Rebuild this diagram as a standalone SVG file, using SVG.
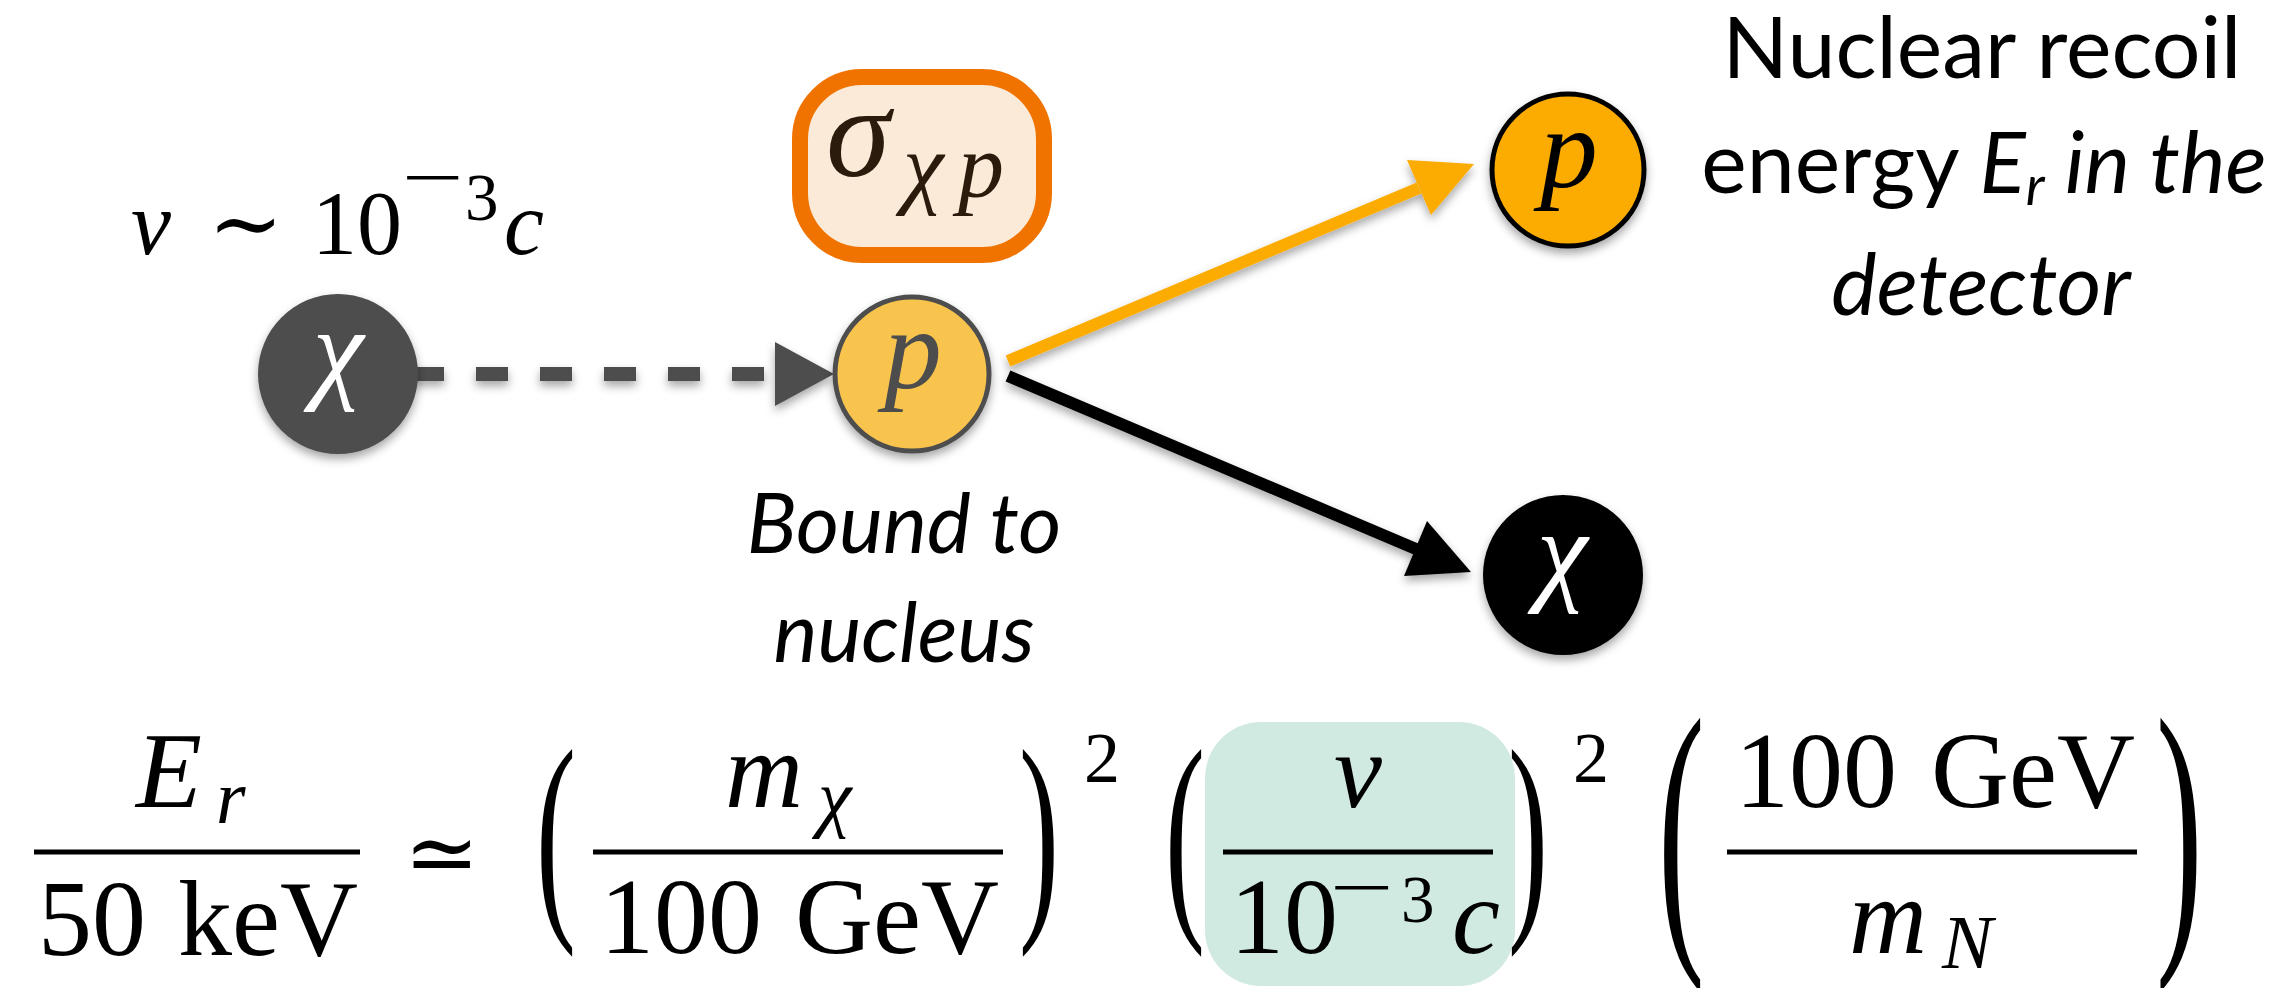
<svg xmlns="http://www.w3.org/2000/svg" width="2274" height="988" viewBox="0 0 2274 988">
<style>
.m{font-family:"Liberation Serif","DejaVu Serif",serif;fill:#000}
.i{font-style:italic}
.s{font-family:Lato,"Open Sans","Liberation Sans",sans-serif;fill:#000}
.bar{stroke:#000;stroke-width:5}
</style>
<defs>
<filter id="sh" x="-30%" y="-30%" width="160%" height="170%">
<feDropShadow dx="0" dy="5" stdDeviation="5" flood-color="#000" flood-opacity="0.35"/>
</filter>
</defs>
<rect width="2274" height="988" fill="#fff"/>

<g id="connectors">
<g filter="url(#sh)">
<line x1="412" y1="374" x2="776" y2="374" stroke="#4d4d4d" stroke-width="14" stroke-dasharray="32 32"/>
<polygon points="775,342 834,374 775,406" fill="#4d4d4d"/>
</g>
<g filter="url(#sh)">
<line x1="1008" y1="361" x2="1419" y2="188" stroke="#fcab05" stroke-width="12"/>
<polygon points="1474,164 1407,160 1431,215" fill="#fcab05"/>
</g>
<g filter="url(#sh)">
<line x1="1008" y1="376" x2="1416" y2="549" stroke="#000" stroke-width="12"/>
<polygon points="1471,572 1404,576 1427,521" fill="#000"/>
</g>
</g>

<g id="node-chi-in">
<circle cx="338" cy="374" r="80" fill="#4d4d4d" filter="url(#sh)"/>
<text class="m i" x="338" y="388" font-size="115" text-anchor="middle" style="fill:#fff">χ</text>
</g>

<g id="node-p-bound">
<circle cx="912" cy="374" r="77" fill="#f9c44e" stroke="#4d4d4d" stroke-width="5" filter="url(#sh)"/>
<text class="m i" x="913" y="388" font-size="115" text-anchor="middle" style="fill:#4d4d4d">p</text>
</g>

<g id="node-p-out">
<circle cx="1568" cy="170" r="76" fill="#fcab05" stroke="#000" stroke-width="5" filter="url(#sh)"/>
<text class="m i" x="1569" y="187" font-size="115" text-anchor="middle">p</text>
</g>

<g id="node-chi-out">
<circle cx="1563" cy="575" r="80" fill="#000" filter="url(#sh)"/>
<text class="m i" x="1562" y="590" font-size="115" text-anchor="middle" style="fill:#fff">χ</text>
</g>

<g id="cross-section">
<rect x="800" y="77" width="244" height="178" rx="62" fill="#fbead7" stroke="#f07300" stroke-width="16"/>
<text class="m i" font-size="130" style="fill:#2a1b0c"><tspan x="826" y="176">σ</tspan><tspan x="903" y="197" font-size="92">χ</tspan><tspan x="958" y="197" font-size="92">p</tspan></text>
</g>

<g id="velocity-label">
<text class="m" font-size="90"><tspan class="i" x="131" y="254">v</tspan><tspan x="208" y="254">∼</tspan><tspan x="312" y="254">10</tspan><tspan x="465" y="220" font-size="67">3</tspan><tspan class="i" x="504" y="254">c</tspan></text>
<text class="m" x="402" y="200" font-size="67" textLength="62" lengthAdjust="spacingAndGlyphs">−</text>
</g>

<g id="bound-label">
<text class="s i" font-size="83" text-anchor="middle"><tspan x="904" y="553">Bound to</tspan><tspan x="904" y="662">nucleus</tspan></text>
</g>

<g id="recoil-label">
<text class="s" font-size="86" text-anchor="middle"><tspan x="1982" y="78">Nuclear recoil</tspan><tspan x="1984" y="193">energy <tspan class="i">E</tspan><tspan class="i" font-size="55" dy="12">r</tspan><tspan class="i" dy="-12"> in the</tspan></tspan><tspan class="i" x="1981" y="315">detector</tspan></text>
</g>

<g id="equation">
<rect x="1205" y="722" width="310" height="264" rx="56" fill="#d0e9e1"/>
<text class="m i" font-size="108"><tspan x="136" y="807">E</tspan><tspan x="216" y="823" font-size="76">r</tspan></text>
<line class="bar" x1="34" y1="852" x2="360" y2="852"/>
<text class="m" font-size="108"><tspan x="38" y="955">50</tspan><tspan x="178" y="955">keV</tspan></text>
<text class="m" x="404" y="884" font-size="90" style="font-family:'DejaVu Serif',serif">≃</text>
<text class="m" font-size="120" transform="translate(536 851) scale(1 1.91)" y="30">(</text>
<text class="m i" font-size="108"><tspan x="725" y="807">m</tspan><tspan x="818" y="823" font-size="76">χ</tspan></text>
<line class="bar" x1="593" y1="852" x2="1003" y2="852"/>
<text class="m" font-size="108"><tspan x="600" y="953">100</tspan><tspan x="795" y="953">GeV</tspan></text>
<text class="m" font-size="120" transform="translate(1019 851) scale(1 1.91)" y="30">)</text>
<text class="m" x="1084" y="782" font-size="72">2</text>
<text class="m" font-size="120" transform="translate(1165 851) scale(1 1.91)" y="30">(</text>
<text class="m i" x="1334" y="807" font-size="108">v</text>
<line class="bar" x1="1223" y1="852" x2="1493" y2="852"/>
<text class="m" font-size="108"><tspan x="1230" y="953">10</tspan><tspan x="1401" y="922" font-size="67">3</tspan><tspan class="i" x="1452" y="953">c</tspan></text>
<text class="m" x="1330" y="910" font-size="67" textLength="64" lengthAdjust="spacingAndGlyphs">−</text>
<text class="m" font-size="120" transform="translate(1508 851) scale(1 1.91)" y="30">)</text>
<text class="m" x="1573" y="782" font-size="72">2</text>
<text class="m" font-size="140" transform="translate(1658 852) scale(1 2.16)" y="35">(</text>
<text class="m" font-size="108"><tspan x="1735" y="807">100</tspan><tspan x="1931" y="807">GeV</tspan></text>
<line class="bar" x1="1727" y1="852" x2="2137" y2="852"/>
<text class="m i" font-size="108"><tspan x="1849" y="953">m</tspan><tspan x="1942" y="968" font-size="76">N</tspan></text>
<text class="m" font-size="140" transform="translate(2156 852) scale(1 2.16)" y="35">)</text>
</g>
</svg>
